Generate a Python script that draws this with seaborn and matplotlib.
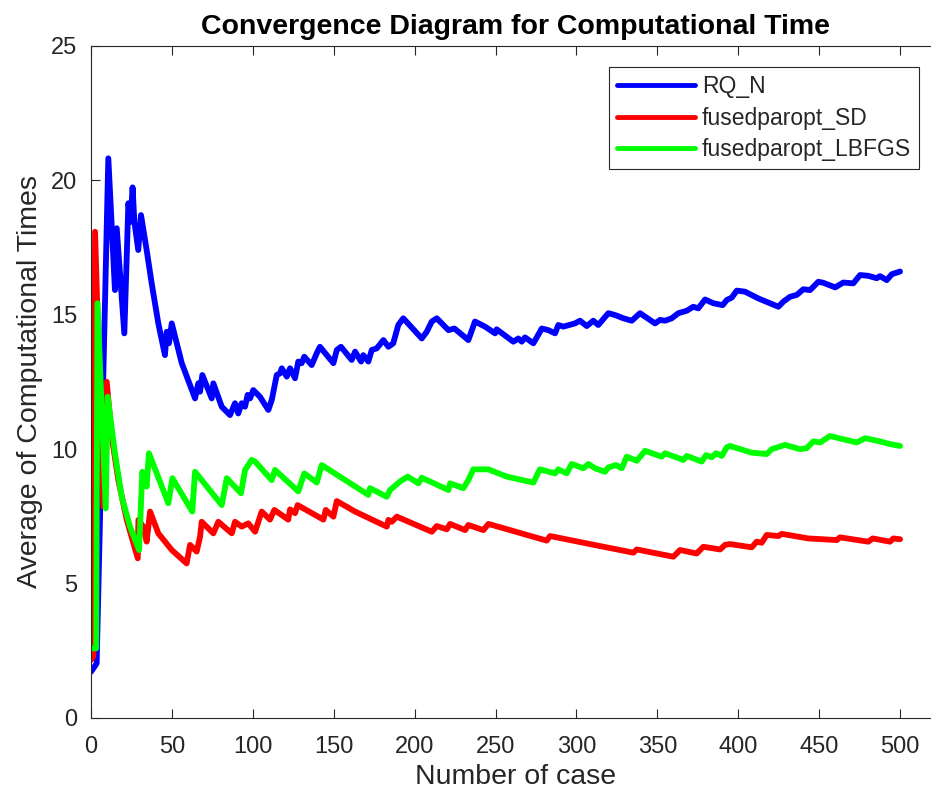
import pandas as pd
import seaborn as sns
import matplotlib.pyplot as plt

# 데이터 (그림에서 읽은 꺾은선 꼭짓점)
rq_x = [0, 3.5, 10.7, 14.8, 15.9, 20.6, 23.1, 24.5, 25.7, 26.8, 29.2, 30.9, 34.4, 37.5, 41.6,
        45.7, 46.8, 48.2, 49.9, 56.1, 64.3, 66.3, 67.4, 68.8, 74.6, 75.6, 80.8, 85.9, 89, 91,
        93.1, 95.2, 96.8, 98.3, 100.3, 104.4, 109.6, 111.7, 114.8, 116.8, 117.9, 121, 123,
        126.1, 128.1, 130.2, 131.8, 136.4, 139.5, 141.5, 149.8, 151.9, 154.5, 161.1, 163.2,
        166.9, 168.3, 171.4, 173.5, 176.6, 180.7, 183.8, 186.8, 189.9, 193, 204.4, 207.5,
        210.6, 213.7, 220.9, 224.6, 233.2, 237.3, 243.5, 249.7, 250.7, 261, 264.1, 266.2,
        268.2, 273.4, 278.6, 282.6, 286.8, 288.8, 291.9, 299.1, 302.2, 306.4, 310.4, 313.5,
        319.7, 323.9, 329, 334.2, 339.3, 348.6, 351.7, 354.8, 358.9, 363, 368.2, 372.2,
        375.3, 379.5, 384.6, 390.4, 392.9, 396, 399.1, 404.2, 412.4, 424.8, 427.9, 432,
        436.2, 440.2, 444.4, 449.5, 452.6, 459.9, 464.9, 471.1, 475.3, 480.4, 485.6, 487.6,
        491.8, 494.9, 500]
rq_y = [1.72, 2.03, 20.82, 15.92, 18.22, 14.31, 19.15, 18.46, 19.74, 18.46, 17.41, 18.71,
        17.41, 16.17, 14.68, 13.5, 14.37, 13.94, 14.68, 13.2, 11.89, 12.45, 12.14, 12.76,
        11.89, 12.45, 11.58, 11.27, 11.71, 11.33, 11.71, 11.58, 12.02, 11.89, 12.2, 11.95,
        11.46, 11.83, 12.76, 12.82, 13.01, 12.7, 13.01, 12.64, 13.26, 13.2, 13.44, 13.13,
        13.57, 13.81, 13.2, 13.69, 13.81, 13.32, 13.63, 13.26, 13.5, 13.26, 13.69, 13.75,
        14.06, 13.81, 13.94, 14.62, 14.87, 14.12, 14.37, 14.75, 14.87, 14.43, 14.49, 14.06,
        14.75, 14.56, 14.31, 14.46, 14.0, 14.12, 14.0, 14.16, 13.94, 14.49, 14.43, 14.31,
        14.62, 14.56, 14.68, 14.78, 14.58, 14.78, 14.62, 15.06, 14.99, 14.87, 14.78, 15.06,
        14.68, 14.81, 14.78, 14.87, 15.06, 15.15, 15.3, 15.24, 15.57, 15.43, 15.36, 15.55,
        15.64, 15.9, 15.86, 15.61, 15.3, 15.49, 15.67, 15.74, 15.95, 15.92, 16.23, 16.19,
        16.02, 16.2, 16.17, 16.48, 16.45, 16.36, 16.44, 16.29, 16.51, 16.61]

sd_x = [0, 1.5, 2.5, 7.6, 9.7, 12.8, 16.9, 22.1, 28.9, 29.3, 32.3, 34.4, 36.5, 41.6, 49.9,
        59.1, 61.2, 65.3, 67.4, 68.4, 75.6, 78.7, 87, 89, 93.1, 97.2, 101.4, 105.5, 110.6,
        113.3, 121.9, 123, 126.1, 127.7, 143.6, 145.1, 149.8, 151.9, 163.2, 182.8, 183.8,
        185.9, 189, 210.6, 213.7, 219.9, 221.9, 231.2, 233.2, 242.5, 245.6, 281.6, 283.7,
        308.4, 335.2, 337.3, 359.9, 364, 374.3, 378.4, 388.8, 391.8, 394.9, 408.3, 411.4,
        414.5, 417.6, 424.8, 426.9, 443.3, 460.9, 462.9, 480.4, 483.1, 493.8, 495.9, 500]
sd_y = [2.16, 2.3, 18.09, 7.86, 12.51, 10.47, 8.85, 7.37, 5.94, 7.37, 7.12, 6.56, 7.68, 6.87,
        6.25, 5.75, 6.44, 6.19, 6.74, 7.3, 6.87, 7.3, 6.87, 7.3, 7.12, 7.24, 6.93, 7.68, 7.38,
        7.74, 7.38, 7.76, 7.62, 7.92, 7.38, 7.74, 7.49, 8.07, 7.68, 7.12, 7.37, 7.3, 7.49,
        6.93, 7.14, 7.02, 7.22, 6.99, 7.18, 6.99, 7.22, 6.6, 6.77, 6.47, 6.15, 6.27, 6.0,
        6.25, 6.12, 6.37, 6.27, 6.44, 6.47, 6.35, 6.56, 6.52, 6.81, 6.77, 6.85, 6.68, 6.62,
        6.72, 6.56, 6.68, 6.56, 6.68, 6.65]

lb_x = [0.4, 3.2, 4.0, 9.1, 10.3, 14.8, 19, 24.1, 29.7, 31.7, 34.4, 35.8, 47.8, 50.3, 62.6,
        64.3, 80.8, 83.9, 92.7, 95.2, 99.3, 101.4, 111.7, 113.7, 128.1, 131.8, 139.5, 142.6,
        171.4, 172.4, 182.8, 184.8, 191, 195.7, 202.3, 204.4, 220.9, 221.9, 230.1, 233.2,
        236.3, 245.6, 256.9, 273.4, 277.4, 286.8, 288.8, 294, 297.1, 304.3, 307.4, 311.5,
        317.7, 319.7, 324.5, 328, 331.1, 337.3, 342.4, 352.7, 354.8, 366.1, 368.2, 377.4,
        380.1, 383.6, 386.3, 389.8, 392.9, 394.9, 408.3, 417.6, 420.7, 428.9, 438.2, 442.3,
        446.4, 450.6, 456.7, 464.9, 473.2, 478.4, 487.6, 493.8, 500]
lb_y = [2.59, 2.59, 15.43, 7.8, 11.95, 9.85, 8.23, 7.12, 6.25, 9.16, 8.61, 9.85, 7.99, 8.92,
        7.68, 9.16, 7.92, 8.92, 8.36, 9.23, 9.6, 9.54, 8.85, 9.23, 8.43, 9.1, 8.76, 9.41,
        8.3, 8.55, 8.23, 8.48, 8.8, 8.98, 8.73, 8.94, 8.48, 8.73, 8.55, 8.85, 9.25, 9.25,
        8.98, 8.76, 9.25, 9.1, 9.25, 9.1, 9.45, 9.29, 9.45, 9.29, 9.16, 9.32, 9.41, 9.29,
        9.72, 9.57, 9.94, 9.72, 9.85, 9.6, 9.75, 9.54, 9.78, 9.7, 9.85, 9.75, 10.07, 10.12,
        9.87, 9.82, 10.0, 10.16, 10.0, 10.04, 10.29, 10.25, 10.49, 10.37, 10.25, 10.41,
        10.29, 10.19, 10.12]

names = ['RQ_N', 'fusedparopt_SD', 'fusedparopt_LBFGS']
colors = ['#0000ff', '#ff0000', '#00ff00']

df = pd.concat([
    pd.DataFrame({'case': rq_x, 'time': rq_y, 'method': names[0]}),
    pd.DataFrame({'case': sd_x, 'time': sd_y, 'method': names[1]}),
    pd.DataFrame({'case': lb_x, 'time': lb_y, 'method': names[2]}),
])

sns.set_style('ticks')
plt.rcParams['font.family'] = ['Liberation Sans', 'DejaVu Sans']
plt.rcParams['xtick.direction'] = 'in'
plt.rcParams['ytick.direction'] = 'in'
plt.rcParams['xtick.top'] = True
plt.rcParams['ytick.right'] = True

fig = plt.figure(figsize=(9.31, 7.96), dpi=100)
ax = fig.add_axes([91 / 931, 78 / 796, 849.5 / 931, 672 / 796])

sns.lineplot(data=df, x='case', y='time', hue='method', palette=colors, hue_order=names,
             estimator=None, sort=False, linewidth=4.2, ax=ax)

ax.set_xlim(0, 525)
ax.set_ylim(0, 25)
ax.set_xticks(range(0, 501, 50))
ax.set_yticks(range(0, 26, 5))
ax.tick_params(labelsize=17, colors='#262626', length=6.5, width=0.8)
ax.tick_params(axis='x', pad=13)
ax.tick_params(axis='y', pad=10)
for s in ax.spines.values():
    s.set_visible(True)
    s.set_color('#262626')
    s.set_linewidth(0.8)

ax.set_title('Convergence Diagram for Computational Time', fontsize=20.5, fontweight='bold',
             pad=9, color='black')
ax.set_xlabel('Number of case', fontsize=20.5, color='#262626')
ax.set_ylabel('Average of Computational Times', fontsize=20.5, color='#262626', labelpad=6)

leg = ax.legend(loc='upper right', bbox_to_anchor=(0.9747, 0.9688), borderaxespad=0,
                fontsize=16.5, handlelength=3.4, handletextpad=0.3, labelspacing=0.38,
                borderpad=0.35, fancybox=False, framealpha=1, edgecolor='#262626', title=None)
leg.get_frame().set_linewidth(0.8)
for ln in leg.get_lines():
    ln.set_linewidth(3.5)

plt.savefig('out.png', dpi=100)
